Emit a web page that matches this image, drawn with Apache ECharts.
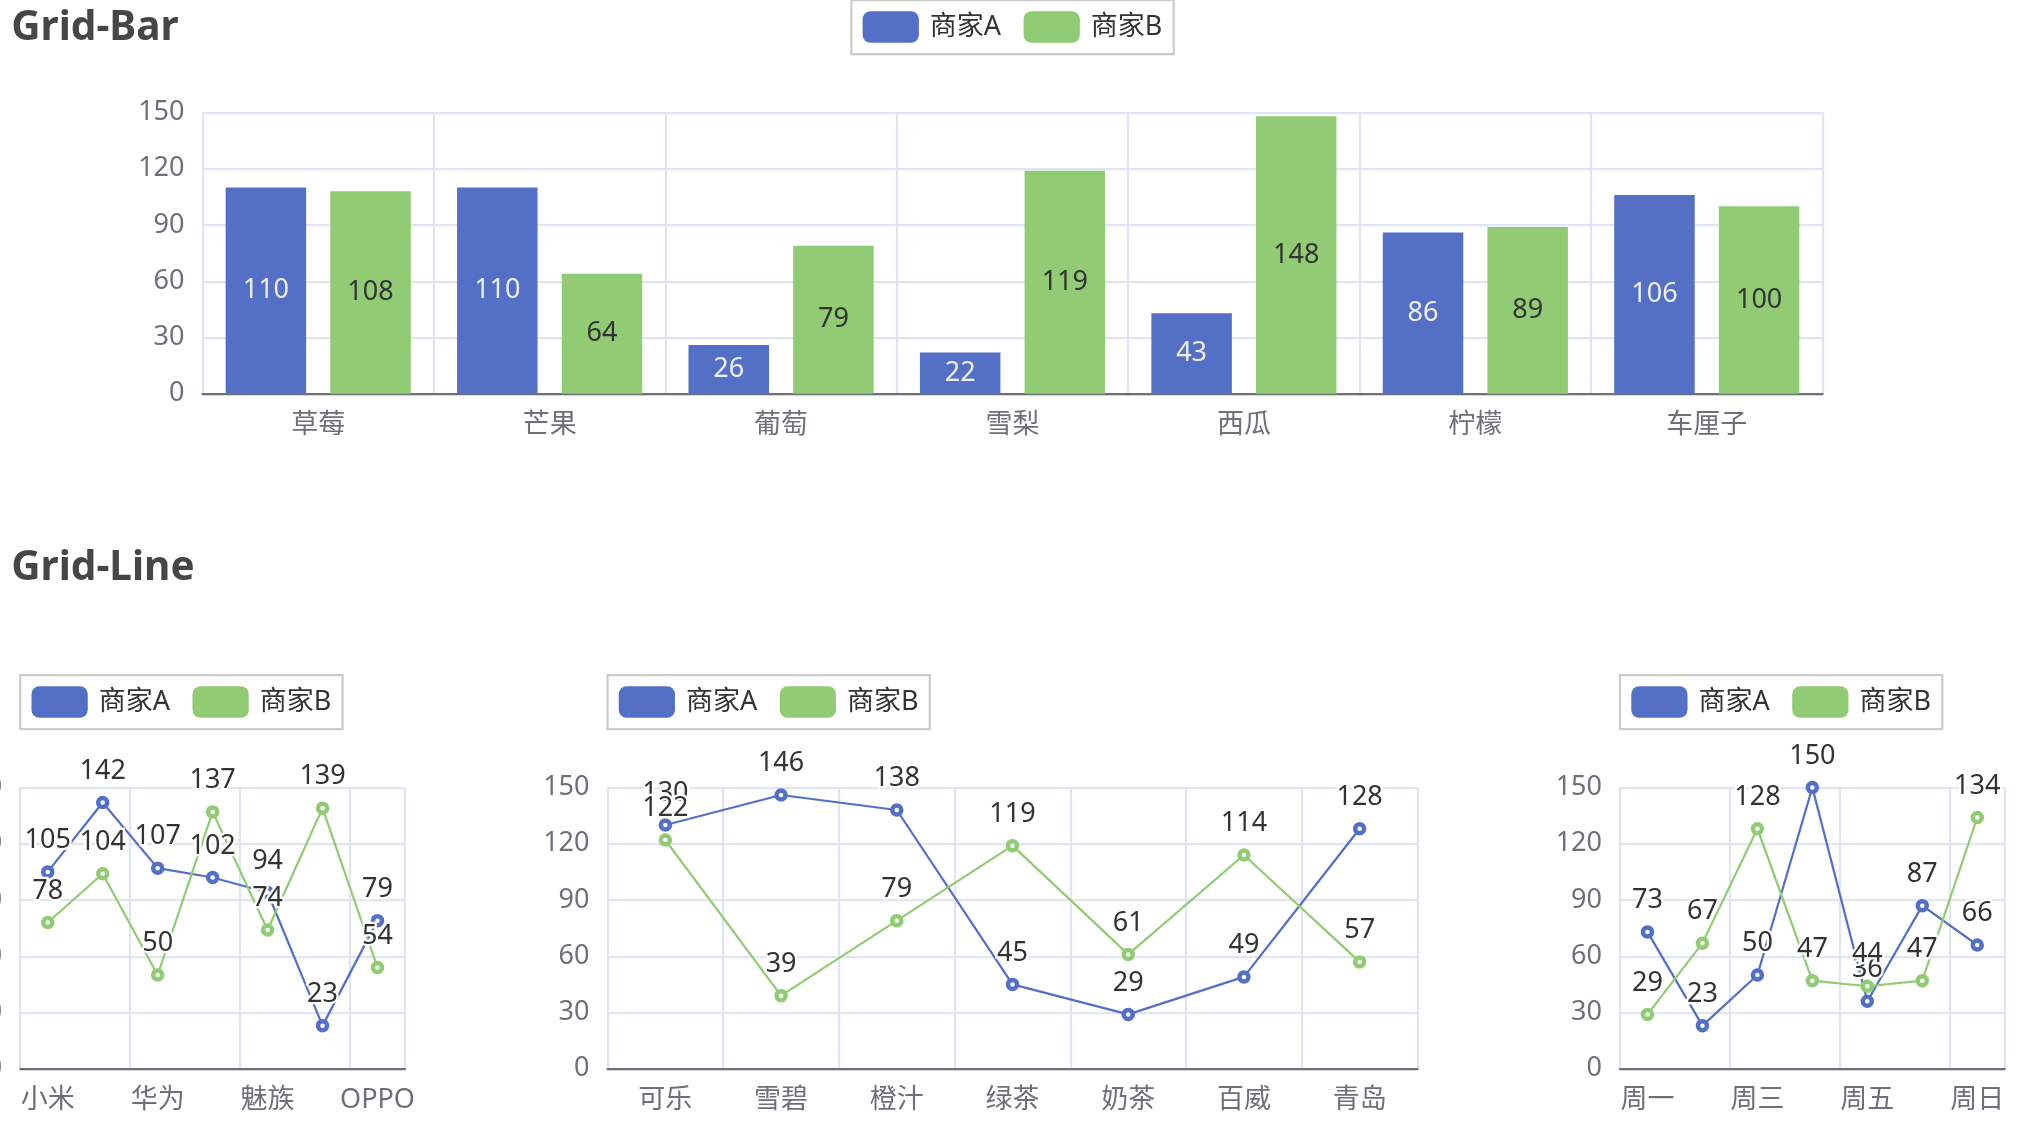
<!DOCTYPE html>
<html>
<head>
<meta charset="utf-8">
<title>Grid</title>
<script src="https://cdn.jsdelivr.net/npm/echarts@6/dist/echarts.min.js"></script>
<style>
html, body { margin: 0; padding: 0; background: #fff; overflow: hidden; }
#main { width: 2025px; height: 1125px; }
</style>
</head>
<body>
<div id="main"></div>
<script>
const names = ["商家A", "商家B"];

const fruits = ["草莓", "芒果", "葡萄", "雪梨", "西瓜", "柠檬", "车厘子"];
const fruitA = [110, 110, 26, 22, 43, 86, 106];
const fruitB = [108, 64, 79, 119, 148, 89, 100];

const phones = ["小米", "三星", "华为", "苹果", "魅族", "VIVO", "OPPO"];
const phoneA = [105, 142, 107, 102, 94, 23, 79];
const phoneB = [78, 104, 50, 137, 74, 139, 54];

const drinks = ["可乐", "雪碧", "橙汁", "绿茶", "奶茶", "百威", "青岛"];
const drinkA = [130, 146, 138, 45, 29, 49, 128];
const drinkB = [122, 39, 79, 119, 61, 114, 57];

const week = ["周一", "周二", "周三", "周四", "周五", "周六", "周日"];
const weekA = [73, 23, 50, 150, 36, 87, 66];
const weekB = [29, 67, 128, 47, 44, 47, 134];

// value axis ticks: 0, 30, ... 150
const yMin = 0, yMax = 150, yStep = 30;

// the original was a 900x500 render, this page is 2.25x that
const S = 2.25;
const font = "'Noto Sans', 'Noto Sans CJK SC', sans-serif";
const colors = ["#5470c6", "#91cc75"];

const chart = echarts.init(document.getElementById("main"));

const xAxisOf = (cats, gridIndex) => ({
    type: "category",
    gridIndex: gridIndex,
    data: cats,
    axisLine: { lineStyle: { color: "#6E7079", width: S } },
    axisTick: { length: 5 * S, lineStyle: { color: "#6E7079", width: S } },
    axisLabel: { color: "#6E7079", fontSize: 12 * S, margin: 8 * S, fontFamily: font },
    splitLine: { show: true, lineStyle: { color: "#E0E6F1", width: S } }
});
const yAxisOf = (gridIndex) => ({
    type: "value",
    gridIndex: gridIndex,
    min: yMin,
    max: yMax,
    interval: yStep,
    axisLine: { show: false },
    axisTick: { show: false },
    axisLabel: { color: "#6E7079", fontSize: 12 * S, margin: 8 * S, fontFamily: font },
    splitLine: { show: true, lineStyle: { color: "#E0E6F1", width: S } }
});
const legendAt = (left, top) => ({
    data: names.map((n, i) => ({ name: n, icon: "roundRect", itemStyle: { color: colors[i], borderWidth: 0 } })),
    left: left,
    top: top,
    padding: 5 * S,
    itemGap: 10 * S,
    borderWidth: S,
    borderColor: "#ccc",
    itemWidth: 25 * S,
    itemHeight: 14 * S,
    textStyle: { color: "#333", fontSize: 12 * S, fontFamily: font, padding: [0, 0, 0, 6] }
});
const lineOf = (name, data, idx, color) => ({
    name: name,
    type: "line",
    xAxisIndex: idx,
    yAxisIndex: idx,
    data: data,
    // hollow marker: white fill, coloured ring
    symbol: "circle",
    symbolSize: 4 * S,
    lineStyle: { width: S, color: color },
    itemStyle: { color: "#fff", borderColor: color, borderWidth: 2 * S },
    label: {
        show: true,
        position: "top",
        distance: 5 * S,
        color: "#333",
        fontSize: 12 * S,
        fontFamily: font,
        textBorderColor: "#fff",
        textBorderWidth: 2 * S
    }
});
const barOf = (name, data, color) => ({
    name: name,
    type: "bar",
    xAxisIndex: 0,
    yAxisIndex: 0,
    data: data,
    barGap: "30%",
    barCategoryGap: "20%",
    itemStyle: { color: color },
    label: { show: true, position: "inside", fontSize: 12 * S, fontFamily: font }
});
const titleAt = (text, top) => ({
    text: text,
    left: 0,
    top: top,
    padding: 5 * S,
    textStyle: { color: "#464646", fontSize: 18 * S, fontWeight: "bold", fontFamily: font }
});

const option = {
    animation: false,
    color: colors,
    title: [titleAt("Grid-Bar", -3), titleAt("Grid-Line", 537)],
    legend: [
        legendAt("center", 0),
        legendAt("1%", "60%"),
        legendAt("30%", "60%"),
        legendAt("80%", "60%")
    ],
    grid: [
        { left: "10%", right: "10%", top: "10%", bottom: "65%", outerBoundsMode: "none" },
        { left: "1%", right: "80%", top: "70%", bottom: "5%", outerBoundsMode: "none" },
        { left: "30%", right: "30%", top: "70%", bottom: "5%", outerBoundsMode: "none" },
        { left: "80%", right: "1%", top: "70%", bottom: "5%", outerBoundsMode: "none" }
    ],
    xAxis: [xAxisOf(fruits, 0), xAxisOf(phones, 1), xAxisOf(drinks, 2), xAxisOf(week, 3)],
    yAxis: [yAxisOf(0), yAxisOf(1), yAxisOf(2), yAxisOf(3)],
    series: [
        barOf(names[0], fruitA, colors[0]),
        barOf(names[1], fruitB, colors[1]),
        lineOf(names[0], phoneA, 1, colors[0]),
        lineOf(names[1], phoneB, 1, colors[1]),
        lineOf(names[0], drinkA, 2, colors[0]),
        lineOf(names[1], drinkB, 2, colors[1]),
        lineOf(names[0], weekA, 3, colors[0]),
        lineOf(names[1], weekB, 3, colors[1])
    ]
};
chart.setOption(option);
</script>
</body>
</html>
